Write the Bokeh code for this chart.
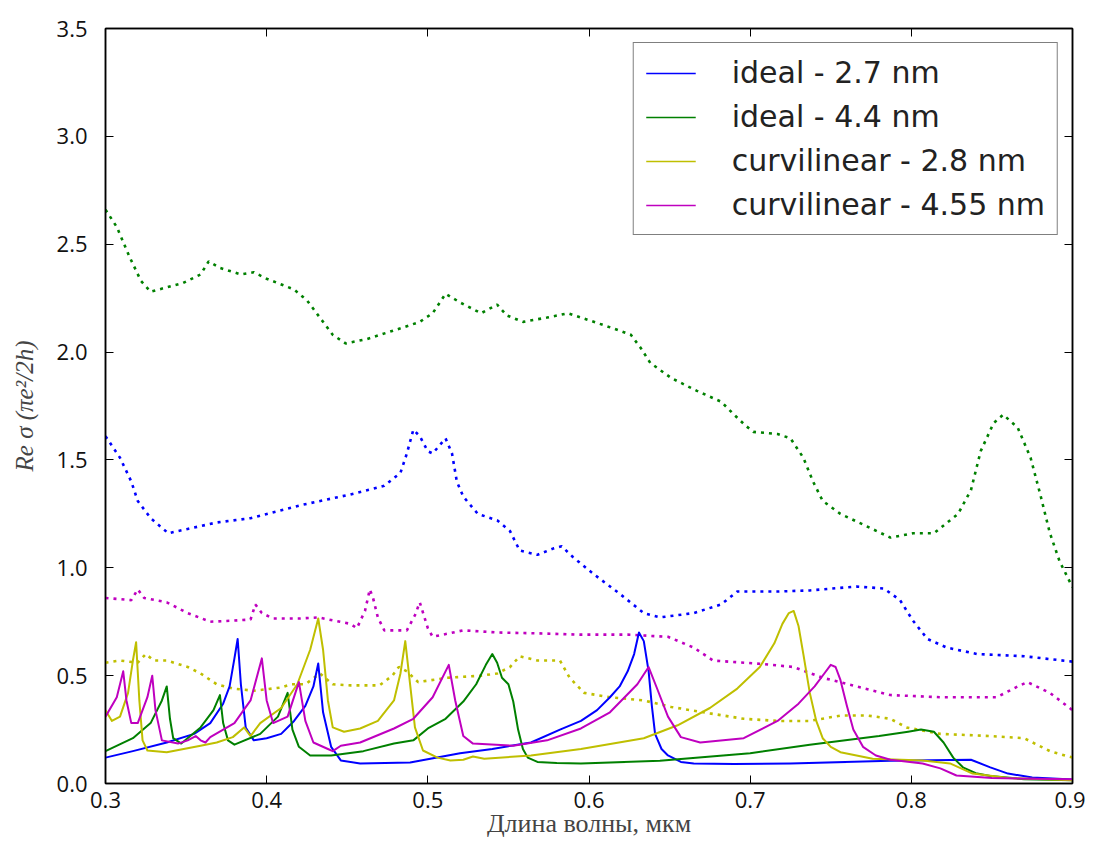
from bokeh.plotting import figure
from bokeh.models import Range1d, FixedTicker, LinearAxis, PrintfTickFormatter, Legend, LegendItem
from bokeh.embed import file_html
from bokeh.resources import INLINE

# ---- data (wavelength in um, Re sigma in units of pi e^2 / 2h) ----
blue_x = [0.300,0.317,0.338,0.355,0.365,0.373,0.377,0.380,0.382,0.384,0.387,0.392,0.400,0.409,0.417,0.424,0.429,0.432,0.435,0.440,0.446,0.458,0.489,0.520,0.540,0.564,0.582,0.595,0.605,0.613,0.619,0.624,0.628,0.631,0.634,0.637,0.639,0.641,0.645,0.649,0.657,0.665,0.690,0.725,0.787,0.837,0.849,0.860,0.875,0.900]
blue_y = [0.12,0.15,0.19,0.23,0.28,0.37,0.45,0.58,0.67,0.46,0.26,0.20,0.21,0.23,0.29,0.36,0.45,0.556,0.33,0.17,0.107,0.093,0.097,0.14,0.16,0.19,0.25,0.29,0.34,0.40,0.45,0.52,0.60,0.70,0.66,0.52,0.36,0.23,0.16,0.13,0.10,0.093,0.09,0.093,0.105,0.11,0.075,0.046,0.028,0.018]

green_x = [0.300,0.317,0.328,0.335,0.338,0.340,0.342,0.347,0.359,0.367,0.371,0.373,0.376,0.380,0.396,0.407,0.413,0.416,0.420,0.427,0.440,0.460,0.479,0.491,0.500,0.511,0.522,0.530,0.536,0.540,0.543,0.546,0.550,0.553,0.556,0.559,0.562,0.568,0.580,0.595,0.644,0.700,0.737,0.780,0.798,0.806,0.814,0.820,0.826,0.832,0.840,0.849,0.870,0.900]
green_y = [0.15,0.21,0.28,0.385,0.45,0.30,0.21,0.185,0.26,0.34,0.41,0.28,0.20,0.18,0.23,0.31,0.42,0.25,0.17,0.13,0.13,0.15,0.185,0.20,0.255,0.30,0.38,0.46,0.55,0.60,0.56,0.49,0.46,0.38,0.25,0.16,0.12,0.10,0.095,0.093,0.105,0.14,0.18,0.22,0.24,0.25,0.24,0.19,0.12,0.075,0.048,0.035,0.02,0.015]

yellow_x = [0.300,0.304,0.309,0.314,0.317,0.319,0.321,0.323,0.326,0.338,0.359,0.369,0.379,0.386,0.390,0.396,0.409,0.419,0.427,0.432,0.435,0.438,0.441,0.448,0.458,0.469,0.479,0.483,0.486,0.489,0.492,0.497,0.506,0.514,0.522,0.528,0.535,0.564,0.595,0.634,0.655,0.675,0.692,0.706,0.715,0.720,0.724,0.727,0.730,0.733,0.737,0.741,0.745,0.750,0.756,0.776,0.807,0.824,0.838,0.860,0.900]
yellow_y = [0.34,0.29,0.31,0.42,0.57,0.655,0.385,0.20,0.153,0.145,0.175,0.19,0.215,0.26,0.22,0.28,0.35,0.46,0.62,0.765,0.62,0.385,0.26,0.24,0.255,0.29,0.385,0.51,0.66,0.46,0.26,0.153,0.12,0.107,0.11,0.125,0.115,0.13,0.16,0.21,0.27,0.35,0.44,0.54,0.65,0.74,0.79,0.80,0.73,0.60,0.42,0.29,0.21,0.17,0.145,0.115,0.107,0.093,0.046,0.025,0.015]

magenta_x = [0.300,0.307,0.311,0.313,0.316,0.320,0.326,0.329,0.331,0.335,0.345,0.351,0.356,0.359,0.362,0.365,0.380,0.390,0.397,0.400,0.404,0.413,0.420,0.424,0.429,0.438,0.441,0.446,0.458,0.479,0.491,0.503,0.513,0.517,0.522,0.528,0.553,0.574,0.595,0.613,0.630,0.637,0.642,0.649,0.657,0.669,0.696,0.717,0.730,0.740,0.746,0.750,0.753,0.756,0.760,0.764,0.770,0.778,0.787,0.807,0.818,0.828,0.850,0.900]
magenta_y = [0.31,0.40,0.52,0.385,0.28,0.28,0.40,0.50,0.34,0.20,0.185,0.20,0.22,0.20,0.19,0.215,0.28,0.385,0.58,0.385,0.28,0.31,0.47,0.29,0.19,0.16,0.15,0.175,0.19,0.255,0.30,0.40,0.55,0.385,0.22,0.185,0.175,0.20,0.255,0.33,0.46,0.54,0.445,0.31,0.215,0.19,0.21,0.29,0.37,0.45,0.51,0.55,0.54,0.48,0.36,0.25,0.17,0.13,0.11,0.093,0.07,0.037,0.025,0.02]

green_dot_x = [0.300,0.307,0.315,0.322,0.328,0.338,0.348,0.359,0.364,0.371,0.384,0.392,0.400,0.417,0.425,0.433,0.441,0.449,0.462,0.483,0.495,0.503,0.511,0.520,0.533,0.543,0.549,0.559,0.574,0.587,0.599,0.615,0.626,0.632,0.638,0.651,0.667,0.682,0.690,0.697,0.702,0.717,0.725,0.733,0.739,0.745,0.756,0.773,0.787,0.801,0.814,0.829,0.837,0.843,0.851,0.857,0.866,0.874,0.880,0.886,0.892,0.900]
green_dot_y = [2.66,2.58,2.44,2.33,2.28,2.30,2.32,2.36,2.42,2.39,2.36,2.37,2.34,2.29,2.24,2.16,2.08,2.04,2.06,2.11,2.14,2.18,2.27,2.23,2.18,2.22,2.17,2.14,2.16,2.18,2.15,2.11,2.08,2.02,1.95,1.88,1.82,1.77,1.71,1.66,1.63,1.62,1.60,1.51,1.40,1.31,1.25,1.19,1.14,1.16,1.16,1.25,1.36,1.54,1.67,1.71,1.65,1.51,1.34,1.16,1.03,0.91]

blue_dot_x = [0.300,0.309,0.316,0.320,0.328,0.339,0.351,0.369,0.390,0.421,0.452,0.473,0.483,0.487,0.491,0.495,0.500,0.503,0.511,0.515,0.518,0.522,0.531,0.543,0.551,0.557,0.568,0.578,0.583,0.590,0.603,0.619,0.634,0.644,0.665,0.682,0.692,0.717,0.737,0.766,0.783,0.793,0.801,0.810,0.822,0.841,0.870,0.900]
blue_dot_y = [1.61,1.51,1.40,1.31,1.23,1.16,1.18,1.21,1.23,1.29,1.34,1.38,1.44,1.53,1.64,1.61,1.54,1.53,1.60,1.53,1.40,1.33,1.25,1.22,1.17,1.08,1.06,1.09,1.10,1.05,0.97,0.88,0.79,0.77,0.79,0.83,0.89,0.89,0.895,0.913,0.904,0.85,0.755,0.67,0.63,0.60,0.59,0.565]

magenta_dot_x = [0.300,0.316,0.320,0.324,0.338,0.351,0.365,0.379,0.390,0.393,0.397,0.404,0.421,0.432,0.452,0.456,0.461,0.464,0.466,0.469,0.473,0.487,0.492,0.495,0.500,0.503,0.522,0.543,0.574,0.595,0.624,0.649,0.665,0.677,0.706,0.727,0.745,0.766,0.787,0.818,0.853,0.866,0.872,0.886,0.900]
magenta_dot_y = [0.86,0.85,0.90,0.86,0.84,0.79,0.75,0.755,0.76,0.83,0.79,0.765,0.765,0.77,0.74,0.72,0.80,0.90,0.86,0.77,0.71,0.71,0.78,0.84,0.72,0.68,0.71,0.70,0.695,0.69,0.69,0.68,0.63,0.57,0.555,0.54,0.49,0.45,0.41,0.40,0.40,0.45,0.47,0.42,0.34]

yellow_dot_x = [0.300,0.309,0.320,0.325,0.330,0.338,0.351,0.359,0.369,0.379,0.392,0.409,0.415,0.424,0.433,0.441,0.452,0.470,0.478,0.482,0.487,0.494,0.512,0.533,0.543,0.551,0.557,0.568,0.582,0.588,0.597,0.613,0.634,0.651,0.675,0.696,0.717,0.737,0.756,0.773,0.787,0.797,0.818,0.849,0.870,0.886,0.900]
yellow_dot_y = [0.56,0.57,0.56,0.60,0.57,0.57,0.54,0.51,0.46,0.44,0.43,0.445,0.46,0.46,0.51,0.46,0.455,0.455,0.50,0.54,0.52,0.47,0.49,0.50,0.51,0.54,0.59,0.57,0.57,0.49,0.42,0.40,0.385,0.355,0.325,0.30,0.29,0.29,0.315,0.315,0.30,0.26,0.23,0.22,0.21,0.15,0.12]

labels = ["ideal - 2.7 nm", "ideal - 4.4 nm", "curvilinear - 2.8 nm", "curvilinear - 4.55 nm"]
x_ticks = [0.3, 0.4, 0.5, 0.6, 0.7, 0.8, 0.9]
y_ticks = [0.0, 0.5, 1.0, 1.5, 2.0, 2.5, 3.0, 3.5]
x_label = "Длина волны, мкм"
y_label = "Re σ (πe²/2h)"

BLUE, GREEN, YELLOW, MAGENTA = "#0000ff", "#008000", "#bfbf00", "#bf00bf"

p = figure(width=1085, height=841, output_backend="svg", toolbar_location=None,
           x_range=Range1d(0.3, 0.9), y_range=Range1d(0, 3.5),
           min_border_left=105, min_border_right=13, min_border_top=28, min_border_bottom=58)
p.grid.visible = False
p.background_fill_color = "white"
p.border_fill_color = "white"
p.outline_line_color = "black"
p.outline_line_width = 1.5

dot = dict(line_width=2.6, line_dash="3 5")
p.line(green_dot_x, green_dot_y, color=GREEN, **dot)
p.line(blue_dot_x, blue_dot_y, color=BLUE, **dot)
p.line(magenta_dot_x, magenta_dot_y, color=MAGENTA, **dot)
p.line(yellow_dot_x, yellow_dot_y, color=YELLOW, **dot)

series = [(blue_x, blue_y, BLUE), (green_x, green_y, GREEN),
          (yellow_x, yellow_y, YELLOW), (magenta_x, magenta_y, MAGENTA)]
items = []
for (xs, ys, c), lab in zip(series, labels):
    p.line(xs, ys, color=c, line_width=2, line_join="round")
    dummy = p.line([float("nan")], [float("nan")], color=c, line_width=1.3)
    items.append(LegendItem(label=lab, renderers=[dummy]))

legend = Legend(items=items, location="top_right", margin=14,
                border_line_color="black", border_line_width=1.5,
                background_fill_color="white", background_fill_alpha=1,
                label_text_font="DejaVu Sans", label_text_font_size="30px",
                label_text_color="#222222",
                glyph_width=50, glyph_height=28, label_height=28,
                label_standoff=36, padding=12, spacing=9)
p.add_layout(legend)

p.xaxis.ticker = FixedTicker(ticks=x_ticks)
p.yaxis.ticker = FixedTicker(ticks=y_ticks)
for ax in p.xaxis + p.yaxis:
    ax.major_tick_in = 8
    ax.major_tick_out = 0
    ax.minor_tick_line_color = None
    ax.axis_line_width = 1.5
    ax.major_label_text_font = "Open Sans"
    ax.major_label_text_font_size = "22px"
    ax.major_label_text_color = "#111111"
    ax.formatter = PrintfTickFormatter(format="%.1f")
p.xaxis.major_label_standoff = 8
p.yaxis.major_label_standoff = 18

p.xaxis.axis_label = x_label
p.xaxis.axis_label_text_font = "Liberation Serif"
p.xaxis.axis_label_text_font_style = "normal"
p.xaxis.axis_label_text_font_size = "26px"
p.xaxis.axis_label_standoff = -2
p.yaxis.axis_label = y_label
p.yaxis.axis_label_text_font = "Liberation Serif"
p.yaxis.axis_label_text_font_style = "italic"
p.yaxis.axis_label_text_font_size = "25px"
p.yaxis.axis_label_standoff = 16

top = LinearAxis(ticker=FixedTicker(ticks=x_ticks), major_tick_in=8, major_tick_out=0,
                 minor_tick_line_color=None, major_label_text_font_size="1px",
                 major_label_text_color=None, major_label_standoff=0, axis_line_width=1.5)
right = LinearAxis(ticker=FixedTicker(ticks=y_ticks), major_tick_in=8, major_tick_out=0,
                   minor_tick_line_color=None, major_label_text_font_size="1px",
                   major_label_text_color=None, major_label_standoff=0, axis_line_width=1.5)
p.add_layout(top, "above")
p.add_layout(right, "right")

open("out.html", "w").write(file_html(p, INLINE))
